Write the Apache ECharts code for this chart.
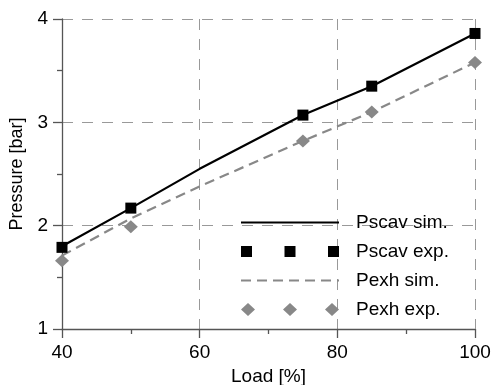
<!DOCTYPE html>
<html>
<head>
<meta charset="utf-8">
<script src="https://cdn.jsdelivr.net/npm/echarts@6/dist/echarts.min.js"></script>
<style>
html,body{margin:0;padding:0;background:#fff;}
#chart{width:493px;height:385px;}
</style>
</head>
<body>
<div id="chart"></div>
<script>
// Data
var loadSim = [40, 50, 60, 75, 85, 100];
var pscavSim = [1.80, 2.17, 2.55, 3.07, 3.35, 3.86];
var pexhSim = [1.71, 2.07, 2.38, 2.82, 3.10, 3.58];
var loadExp = [40, 50, 75, 85, 100];
var pscavExp = [1.79, 2.17, 3.07, 3.35, 3.86];
var pexhExp = [1.66, 1.99, 2.82, 3.10, 3.58];
var seriesNames = ['Pscav sim.', 'Pscav exp.', 'Pexh sim.', 'Pexh exp.'];

function pairs(xs, ys) { return xs.map(function (x, i) { return [x, ys[i]]; }); }

var FONT = 'Liberation Sans';
var chart = echarts.init(document.getElementById('chart'), null, {renderer: 'canvas'});
var sq = 'path://M0 1h11v11h-11zM43.5 1h11v11h-11zM87 1h11v11h-11z';
var dm = 'path://M7 0L14 6.5L7 13L0 6.5zM49 0L56 6.5L49 13L42 6.5zM91 0L98 6.5L91 13L84 6.5z';
var solid = 'path://M0 0h98v2.2h-98z';
var dashed = 'path://';
for (var d = 0; d < 98; d += 16) { dashed += 'M' + d + ' 0h' + Math.min(10, 98 - d) + 'v2.2h-' + Math.min(10, 98 - d) + 'z'; }

chart.setOption({
  animation: false,
  backgroundColor: '#fff',
  grid: {left: 62, right: 18, top: 19, bottom: 56, containLabel: false, outerBoundsMode: 'none'},
  legend: {
    orient: 'vertical',
    left: 241,
    top: 213,
    padding: 0,
    itemWidth: 98,
    itemHeight: 13,
    itemGap: 10,
    textStyle: {fontFamily: FONT, fontSize: 19, color: '#000', lineHeight: 18, padding: [0, 0, 0, 12]},
    data: [
      {name: seriesNames[0], icon: solid, itemStyle: {color: '#000'}},
      {name: seriesNames[1], icon: sq},
      {name: seriesNames[2], icon: dashed, itemStyle: {color: '#888'}},
      {name: seriesNames[3], icon: dm}
    ]
  },
  xAxis: {
    type: 'value', min: 40, max: 100, interval: 20,
    name: 'Load [%]', nameLocation: 'middle', nameGap: 27,
    nameTextStyle: {fontFamily: FONT, fontSize: 19, color: '#000'},
    axisLine: {show: true, lineStyle: {color: '#555', width: 1.3}},
    axisTick: {show: true, length: 9, lineStyle: {color: '#555', width: 1.3}},
    minorTick: {show: true, splitNumber: 2, length: 5, lineStyle: {color: '#555', width: 1.3}},
    axisLabel: {fontFamily: FONT, fontSize: 19, color: '#000', margin: 14},
    splitLine: {show: true, lineStyle: {color: '#999', width: 1, type: [11, 9]}}
  },
  yAxis: {
    type: 'value', min: 1, max: 4, interval: 1,
    name: 'Pressure [bar]', nameLocation: 'middle', nameGap: 36,
    nameTextStyle: {fontFamily: FONT, fontSize: 18, color: '#000'},
    axisLine: {show: true, lineStyle: {color: '#555', width: 1.3}},
    axisTick: {show: true, length: 9, lineStyle: {color: '#555', width: 1.3}},
    minorTick: {show: true, splitNumber: 2, length: 5, lineStyle: {color: '#555', width: 1.3}},
    axisLabel: {fontFamily: FONT, fontSize: 19, color: '#000', margin: 14},
    splitLine: {show: true, lineStyle: {color: '#999', width: 1, type: [11, 9]}}
  },
  series: [
    {
      name: seriesNames[0], type: 'line', data: pairs(loadSim, pscavSim),
      symbol: 'none', showSymbol: false,
      lineStyle: {color: '#000', width: 2.2}, itemStyle: {color: '#000'}, z: 2
    },
    {
      name: seriesNames[2], type: 'line', data: pairs(loadSim, pexhSim),
      symbol: 'none', showSymbol: false,
      lineStyle: {color: '#888', width: 2.2, type: [10, 6]}, itemStyle: {color: '#888'}, z: 2
    },
    {
      name: seriesNames[1], type: 'scatter', data: pairs(loadExp, pscavExp),
      symbol: 'rect', symbolSize: 11, itemStyle: {color: '#000', opacity: 1}, z: 3
    },
    {
      name: seriesNames[3], type: 'scatter', data: pairs(loadExp, pexhExp),
      symbol: 'diamond', symbolSize: [14, 13], itemStyle: {color: '#888', opacity: 1}, z: 3
    }
  ]
});
</script>
</body>
</html>
